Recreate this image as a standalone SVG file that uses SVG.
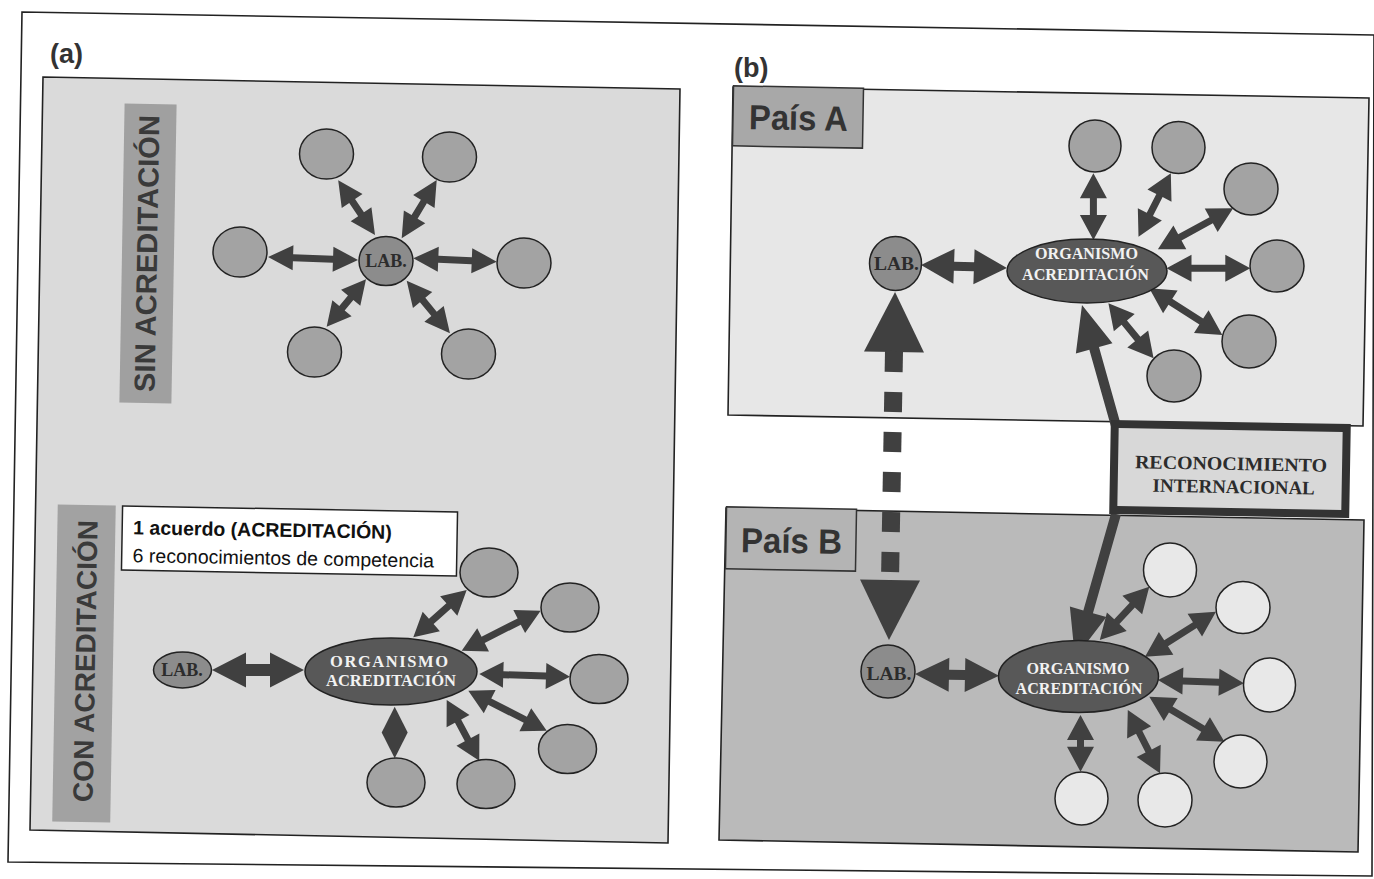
<svg xmlns="http://www.w3.org/2000/svg" width="1374" height="879" viewBox="0 0 1374 879">
<style>
.frame{fill:none;stroke:#222;stroke-width:1.6}
.panel{stroke:#222;stroke-width:1.6}
.arr{fill:#404040}
.c{fill:#a3a3a3;stroke:#222;stroke-width:1.5}
.cw{fill:#e8e8e8;stroke:#222;stroke-width:1.5}
.lab{fill:#8c8c8c;stroke:#222;stroke-width:1.5}
.org{fill:#585858;stroke:#222;stroke-width:1.5}
.labt{font-family:"Liberation Serif",serif;font-weight:bold;fill:#2c2c2c;text-anchor:middle}
.orgt{font-family:"Liberation Serif",serif;font-weight:bold;fill:#f2f2f2;text-anchor:middle}
.vt{font-family:"Liberation Sans",sans-serif;font-weight:bold;fill:#3a3a3a;text-anchor:middle}
.pt{font-family:"Liberation Sans",sans-serif;font-weight:bold;fill:#333}
</style>
<rect width="1374" height="879" fill="#fff"/>
<polygon class="frame" points="22,12 1374,35 1372,876 8,862"/>

<g id="panel-a">
<polygon class="panel" fill="#dadada" points="43,77 680,89 668,843 30,830"/>
<text class="pt" x="50" y="63" font-size="27">(a)</text>
</g>
<g id="panel-b-A">
<polygon class="panel" fill="#e7e7e7" points="733,87 1369,98 1363,426 728,415"/>
<text class="pt" x="734" y="77" font-size="27">(b)</text>
</g>
<g id="panel-b-B">
<polygon class="panel" fill="#bababa" points="726,508 1364,520 1358,852 719,840"/>
</g>

<g id="label-sin" transform="rotate(1 148 253)">
<rect x="122" y="104" width="52" height="299" fill="#a0a0a0"/>
<text class="vt" font-size="29" textLength="277" lengthAdjust="spacingAndGlyphs" transform="translate(157 253.5) rotate(-90)">SIN ACREDITACIÓN</text>
</g>
<g id="label-con" transform="rotate(1 84 663)">
<rect x="55" y="505" width="58" height="317" fill="#a2a2a2"/>
<text class="vt" font-size="28" textLength="282" lengthAdjust="spacingAndGlyphs" transform="translate(95 661) rotate(-90)">CON ACREDITACIÓN</text>
</g>
<g id="note" transform="rotate(1 290 541)">
<rect x="122" y="509" width="335" height="64" fill="#fff" stroke="#222" stroke-width="1.5"/>
<text x="133" y="537" font-family="'Liberation Sans',sans-serif" font-weight="bold" font-size="19.5" fill="#111">1 acuerdo (ACREDITACIÓN)</text>
<text x="133" y="565" font-family="'Liberation Sans',sans-serif" font-size="19.5" fill="#111">6 reconocimientos de competencia</text>
</g>
<g id="label-paisA" transform="rotate(1 798 117)">
<rect x="733" y="87" width="130" height="60" fill="#a8a8a8" stroke="#333" stroke-width="1.5"/>
<text class="pt" x="749" y="130" font-size="35" textLength="99" lengthAdjust="spacingAndGlyphs">País A</text>
</g>
<g id="label-paisB" transform="rotate(1 791 539)">
<rect x="726" y="508" width="130" height="62" fill="#b4b4b4" stroke="#333" stroke-width="1.5"/>
<text class="pt" x="741" y="553" font-size="35" textLength="101" lengthAdjust="spacingAndGlyphs">País B</text>
</g>

<g id="connectors">
<polygon class="arr" transform="translate(358 260) rotate(181.9)" points="0,0 25,-12.5 25,-3.5 65,-3.5 65,-12.5 90,0 65,12.5 65,3.5 25,3.5 25,12.5"/>
<polygon class="arr" transform="translate(375 235) rotate(-123.9)" points="0,0 25,-12.5 25,-3.5 41,-3.5 41,-12.5 66,0 41,12.5 41,3.5 25,3.5 25,12.5"/>
<polygon class="arr" transform="translate(401.7 238.3) rotate(-59)" points="0,0 25,-12.5 25,-3.5 43,-3.5 43,-12.5 68,0 43,12.5 43,3.5 25,3.5 25,12.5"/>
<polygon class="arr" transform="translate(413.3 258.3) rotate(2.3)" points="0,0 25,-12.5 25,-3.5 58.5,-3.5 58.5,-12.5 83.5,0 58.5,12.5 58.5,3.5 25,3.5 25,12.5"/>
<polygon class="arr" transform="translate(366 279.3) rotate(129.7)" points="0,0 24,-12.5 24,-3.5 37.6,-3.5 37.6,-12.5 61.6,0 37.6,12.5 37.6,3.5 24,3.5 24,12.5"/>
<polygon class="arr" transform="translate(406.7 280.7) rotate(50.5)" points="0,0 25,-12.5 25,-3.5 43,-3.5 43,-12.5 68,0 43,12.5 43,3.5 25,3.5 25,12.5"/>
<polygon class="arr" transform="translate(212 670)" points="0,0 34,-17.5 34,-6 58,-6 58,-17.5 92,0 58,17.5 58,6 34,6 34,17.5"/>
<polygon class="arr" transform="translate(413.3 637.3) rotate(-41.5)" points="0,0 24,-13 24,-3.5 47.3,-3.5 47.3,-13 71.3,0 47.3,13 47.3,3.5 24,3.5 24,13"/>
<polygon class="arr" transform="translate(461.7 650.7) rotate(-26.9)" points="0,0 24,-13 24,-3.5 64.5,-3.5 64.5,-13 88.5,0 64.5,13 64.5,3.5 24,3.5 24,13"/>
<polygon class="arr" transform="translate(479.3 674) rotate(1.7)" points="0,0 24,-13 24,-3.5 66.7,-3.5 66.7,-13 90.7,0 66.7,13 66.7,3.5 24,3.5 24,13"/>
<polygon class="arr" transform="translate(468.3 690.7) rotate(27)" points="0,0 24,-13 24,-3.5 64,-3.5 64,-13 88,0 64,13 64,3.5 24,3.5 24,13"/>
<polygon class="arr" transform="translate(446.7 700) rotate(61.8)" points="0,0 24,-13 24,-3.5 44.9,-3.5 44.9,-13 68.9,0 44.9,13 44.9,3.5 24,3.5 24,13"/>
<polygon class="arr" transform="translate(394.7 706.7) rotate(90)" points="0,0 25.8,-13 51.6,0 25.8,13"/>
<polygon class="arr" transform="translate(921 265) rotate(2)" points="0,0 33,-17.5 33,-4.5 53,-4.5 53,-17.5 86,0 53,17.5 53,4.5 33,4.5 33,17.5"/>
<polygon class="arr" transform="translate(1093.4 240) rotate(-90)" points="0,0 25,-13.5 25,-3.5 41.7,-3.5 41.7,-13.5 66.7,0 41.7,13.5 41.7,3.5 25,3.5 25,13.5"/>
<polygon class="arr" transform="translate(1138.5 236.7) rotate(-63)" points="0,0 25,-13.5 25,-3.5 46.2,-3.5 46.2,-13.5 71.2,0 46.2,13.5 46.2,3.5 25,3.5 25,13.5"/>
<polygon class="arr" transform="translate(1157.9 249.3) rotate(-28.6)" points="0,0 25,-13.5 25,-3.5 60.7,-3.5 60.7,-13.5 85.7,0 60.7,13.5 60.7,3.5 25,3.5 25,13.5"/>
<polygon class="arr" transform="translate(1166.5 268.3)" points="0,0 25,-13.5 25,-3.5 58.8,-3.5 58.8,-13.5 83.8,0 58.8,13.5 58.8,3.5 25,3.5 25,13.5"/>
<polygon class="arr" transform="translate(1149.3 288.3) rotate(32.6)" points="0,0 25,-13.5 25,-3.5 61.7,-3.5 61.7,-13.5 86.7,0 61.7,13.5 61.7,3.5 25,3.5 25,13.5"/>
<polygon class="arr" transform="translate(1108.4 303.3) rotate(50.6)" points="0,0 25,-13.5 25,-3.5 46.2,-3.5 46.2,-13.5 71.2,0 46.2,13.5 46.2,3.5 25,3.5 25,13.5"/>
<polygon class="arr" transform="translate(915 674) rotate(1.2)" points="0,0 34,-17 34,-5 50,-5 50,-17 84,0 50,17 50,5 34,5 34,17"/>
<polygon class="arr" transform="translate(1099.8 640) rotate(-47.1)" points="0,0 25,-13.5 25,-3.5 47.7,-3.5 47.7,-13.5 72.7,0 47.7,13.5 47.7,3.5 25,3.5 25,13.5"/>
<polygon class="arr" transform="translate(1145 656.7) rotate(-32.4)" points="0,0 25,-13.5 25,-3.5 59,-3.5 59,-13.5 84,0 59,13.5 59,3.5 25,3.5 25,13.5"/>
<polygon class="arr" transform="translate(1157.9 680) rotate(2.2)" points="0,0 25,-13.5 25,-3.5 61.1,-3.5 61.1,-13.5 86.1,0 61.1,13.5 61.1,3.5 25,3.5 25,13.5"/>
<polygon class="arr" transform="translate(1149.3 696.7) rotate(30.9)" points="0,0 25,-13.5 25,-3.5 62.6,-3.5 62.6,-13.5 87.6,0 62.6,13.5 62.6,3.5 25,3.5 25,13.5"/>
<polygon class="arr" transform="translate(1127.8 710) rotate(63)" points="0,0 25,-13.5 25,-3.5 46,-3.5 46,-13.5 71,0 46,13.5 46,3.5 25,3.5 25,13.5"/>
<polygon class="arr" transform="translate(1080.5 715) rotate(90)" points="0,0 25,-13.5 25,-3.5 31.7,-3.5 31.7,-13.5 56.7,0 31.7,13.5 31.7,3.5 25,3.5 25,13.5"/>
<polygon class="arr" transform="translate(1116 426) rotate(-105.7)" points="0,-5 80.7,-5 80.7,-19 125.7,0 80.7,19 80.7,5 0,5"/>
<polygon class="arr" transform="translate(1116 514) rotate(105.9)" points="0,-5 101.7,-5 101.7,-19 149.7,0 101.7,19 101.7,5 0,5"/>
<g class="arr" transform="rotate(1 892 466)">
<polygon points="892,292 922,352 862,352"/>
<rect x="883" y="351" width="18" height="21"/>
<rect x="883" y="392" width="18" height="20"/>
<rect x="883" y="432" width="18" height="20"/>
<rect x="883" y="472" width="18" height="20"/>
<rect x="883" y="512" width="18" height="20"/>
<rect x="883" y="552" width="18" height="20"/>
<polygon points="862,580 922,580 892,640"/>
</g>
</g>

<g id="a-top-lab"><ellipse class="lab" cx="386" cy="261" rx="27" ry="24.5"/><text class="labt" x="386" y="267" font-size="18">LAB.</text></g>
<g id="a-top-n1"><ellipse class="c" cx="326.5" cy="154" rx="27" ry="25"/></g>
<g id="a-top-n2"><ellipse class="c" cx="449.5" cy="157" rx="27" ry="25"/></g>
<g id="a-top-n3"><ellipse class="c" cx="524" cy="263" rx="27" ry="25"/></g>
<g id="a-top-n4"><ellipse class="c" cx="468.5" cy="354" rx="27" ry="25"/></g>
<g id="a-top-n5"><ellipse class="c" cx="314.5" cy="352" rx="27" ry="25"/></g>
<g id="a-top-n6"><ellipse class="c" cx="240" cy="252" rx="27" ry="25"/></g>

<g id="a-bot-lab"><ellipse class="lab" cx="182.5" cy="670" rx="29" ry="18"/><text class="labt" x="182" y="675.5" font-size="18">LAB.</text></g>
<g id="a-bot-org"><ellipse class="org" cx="391" cy="671.5" rx="86" ry="33.5"/>
<text class="orgt" x="389" y="667" font-size="16.5" textLength="118" lengthAdjust="spacing">ORGANISMO</text>
<text class="orgt" x="391" y="686" font-size="16.5" textLength="130" lengthAdjust="spacing">ACREDITACIÓN</text></g>
<g id="a-bot-n1"><ellipse class="c" cx="489" cy="572.5" rx="29" ry="24.5"/></g>
<g id="a-bot-n2"><ellipse class="c" cx="570" cy="607.5" rx="29" ry="24.5"/></g>
<g id="a-bot-n3"><ellipse class="c" cx="599" cy="679" rx="29" ry="24.5"/></g>
<g id="a-bot-n4"><ellipse class="c" cx="567.5" cy="749" rx="29" ry="24.5"/></g>
<g id="a-bot-n5"><ellipse class="c" cx="486" cy="784" rx="29" ry="24.5"/></g>
<g id="a-bot-n6"><ellipse class="c" cx="396" cy="782.5" rx="29" ry="24.5"/></g>

<g id="A-lab"><ellipse class="lab" cx="895.5" cy="263.5" rx="26" ry="27"/><text class="labt" x="896.5" y="270" font-size="19.5">LAB.</text></g>
<g id="A-org"><ellipse class="org" cx="1087" cy="271" rx="80" ry="32"/>
<text class="orgt" x="1086.5" y="258.5" font-size="17" textLength="103" lengthAdjust="spacingAndGlyphs">ORGANISMO</text>
<text class="orgt" x="1085.5" y="279.5" font-size="17" textLength="127" lengthAdjust="spacingAndGlyphs">ACREDITACIÓN</text></g>
<g id="A-n1"><ellipse class="c" cx="1095" cy="146" rx="26" ry="26"/></g>
<g id="A-n2"><ellipse class="c" cx="1178.5" cy="147.5" rx="26.5" ry="26"/></g>
<g id="A-n3"><ellipse class="c" cx="1251" cy="189" rx="27" ry="26"/></g>
<g id="A-n4"><ellipse class="c" cx="1277" cy="266" rx="27" ry="26"/></g>
<g id="A-n5"><ellipse class="c" cx="1249" cy="341.5" rx="27" ry="26.5"/></g>
<g id="A-n6"><ellipse class="c" cx="1174" cy="376" rx="27" ry="26"/></g>

<g id="B-lab"><ellipse class="lab" cx="888" cy="671.5" rx="27" ry="26.5"/><text class="labt" x="889" y="680" font-size="19.5">LAB.</text></g>
<g id="B-org"><ellipse class="org" cx="1078.5" cy="676.5" rx="80" ry="36"/>
<text class="orgt" x="1078" y="673.5" font-size="17" textLength="103" lengthAdjust="spacingAndGlyphs">ORGANISMO</text>
<text class="orgt" x="1079" y="694" font-size="17" textLength="127" lengthAdjust="spacingAndGlyphs">ACREDITACIÓN</text></g>
<g id="B-n1"><ellipse class="cw" cx="1170" cy="570" rx="26.5" ry="27"/></g>
<g id="B-n2"><ellipse class="cw" cx="1243" cy="607.5" rx="27" ry="26"/></g>
<g id="B-n3"><ellipse class="cw" cx="1269.5" cy="685" rx="26" ry="27"/></g>
<g id="B-n4"><ellipse class="cw" cx="1240.5" cy="761.5" rx="26.5" ry="26.5"/></g>
<g id="B-n5"><ellipse class="cw" cx="1165" cy="800" rx="27" ry="27"/></g>
<g id="B-n6"><ellipse class="cw" cx="1081.5" cy="798.5" rx="26.5" ry="26.5"/></g>

<g id="reconocimiento" transform="rotate(1 1230 469)">
<rect x="1114" y="426" width="232" height="86" fill="#d8d8d8" stroke="#333" stroke-width="8"/>
<text class="labt" x="1231" y="470" font-size="19" fill="#222" textLength="192" lengthAdjust="spacingAndGlyphs">RECONOCIMIENTO</text>
<text class="labt" x="1234" y="493" font-size="19" fill="#222" textLength="162" lengthAdjust="spacingAndGlyphs">INTERNACIONAL</text>
</g>
</svg>
